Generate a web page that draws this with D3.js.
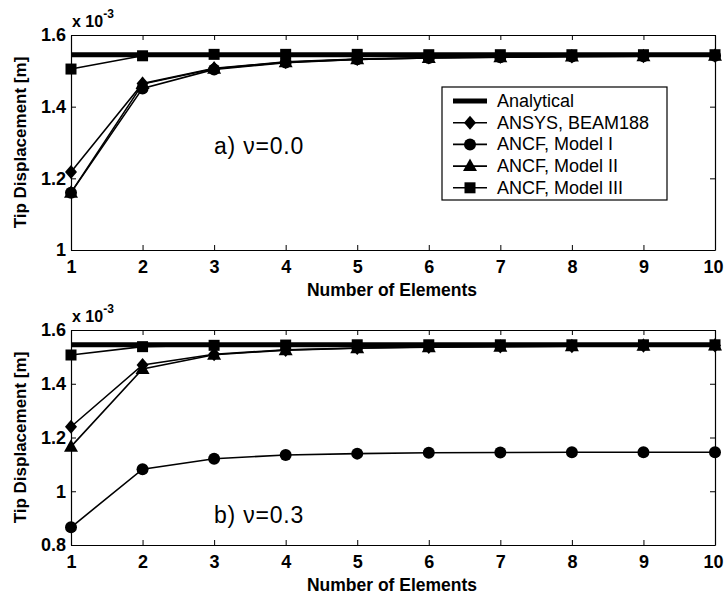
<!DOCTYPE html>
<html>
<head>
<meta charset="utf-8">
<script src="https://cdn.jsdelivr.net/npm/d3@7"></script>
<style>
  body { margin: 0; background: #fff; }
  svg { font-family: "Liberation Sans", Arial, Helvetica, sans-serif; }
</style>
</head>
<body>
<svg id="chart" width="724" height="599"></svg>
<script>
// number of elements on the x axis
const nElements = [1, 2, 3, 4, 5, 6, 7, 8, 9, 10];
const xTicks = [1, 2, 3, 4, 5, 6, 7, 8, 9, 10];

// analytical tip displacement (x 10^-3 m)
const analytical = 1.545;

// panel a) nu = 0.0
const ansysA  = [1.218, 1.465, 1.507, 1.525, 1.533, 1.537, 1.539, 1.540, 1.541, 1.542];
const model1A = [1.160, 1.451, 1.504, 1.523, 1.532, 1.536, 1.538, 1.540, 1.541, 1.542];
const model2A = [1.160, 1.463, 1.506, 1.524, 1.532, 1.536, 1.538, 1.540, 1.541, 1.542];
const model3A = [1.505, 1.542, 1.546, 1.546, 1.546, 1.545, 1.545, 1.545, 1.545, 1.545];

// panel b) nu = 0.3
const ansysB  = [1.240, 1.470, 1.510, 1.526, 1.533, 1.537, 1.539, 1.540, 1.541, 1.542];
const model1B = [0.866, 1.082, 1.121, 1.135, 1.140, 1.143, 1.144, 1.145, 1.145, 1.145];
const model2B = [1.166, 1.455, 1.508, 1.525, 1.532, 1.536, 1.538, 1.540, 1.541, 1.542];
const model3B = [1.507, 1.538, 1.543, 1.544, 1.545, 1.545, 1.545, 1.545, 1.545, 1.545];

const yTicksA = [1, 1.2, 1.4, 1.6];
const yTicksB = [0.8, 1, 1.2, 1.4, 1.6];

const legendNames = ["Analytical", "ANSYS, BEAM188", "ANCF, Model I", "ANCF, Model II", "ANCF, Model III"];
const markerTypes = [null, "diamond", "circle", "triangle", "square"];

const svg = d3.select("#chart");

//Draws one marker shape centred at 0,0
function drawMarker(g, type) {
    if (type == "circle") {
        g.append("circle").attr("r", 6).attr("fill", "#000");
    } else if (type == "diamond") {
        g.append("path").attr("d", "M0,-7L6,0L0,7L-6,0Z").attr("fill", "#000");
    } else if (type == "triangle") {
        g.append("path").attr("d", "M0,-7.5L7,5L-7,5Z").attr("fill", "#000");
    } else if (type == "square") {
        g.append("rect").attr("x", -5.5).attr("y", -5.5).attr("width", 11).attr("height", 11).attr("fill", "#000");
    }
}

function drawPanel(cfg) {
    const left = 71, right = 715;
    const x = d3.scaleLinear().domain([1, 10]).range([left, right]);
    const y = d3.scaleLinear().domain(cfg.yDomain).range([cfg.bottom, cfg.top]);
    const g = svg.append("g");

    //Analytical solution: thick horizontal line
    g.append("path")
        .datum(nElements)
        .attr("fill", "none")
        .attr("stroke", "#000")
        .attr("stroke-width", 5)
        .attr("d", d3.line().x(d => x(d)).y(() => y(analytical)));

    //Numerical series with markers
    cfg.series.forEach((vals, i) => {
        const pts = nElements.map((n, j) => ({n: n, v: vals[j]}));
        g.append("path")
            .datum(pts)
            .attr("fill", "none")
            .attr("stroke", "#000")
            .attr("stroke-width", 1.6)
            .attr("d", d3.line().x(d => x(d.n)).y(d => y(d.v)));
        pts.forEach(p => {
            const m = g.append("g").attr("transform", "translate(" + x(p.n) + "," + y(p.v) + ")");
            drawMarker(m, markerTypes[i + 1]);
        });
    });

    //Axes, ticks pointing inward like matlab
    const tickStyle = a => {
        a.select(".domain").attr("stroke-width", 1.2);
        a.selectAll(".tick line").attr("stroke-width", 1);
    };
    const xAxis = g.append("g")
        .attr("transform", "translate(0," + cfg.bottom + ")")
        .call(d3.axisBottom(x).tickValues(xTicks).tickSizeInner(-5).tickSizeOuter(0).tickPadding(10).tickFormat(d3.format("d")))
        .call(tickStyle);
    xAxis.selectAll("text").attr("font-size", 18).attr("font-weight", "bold").attr("fill", "#000");
    //last label sits on the page edge, keep it inside
    xAxis.selectAll(".tick text").filter(d => d == 10).attr("text-anchor", "end").attr("x", 8);
    g.append("g")
        .attr("transform", "translate(0," + cfg.top + ")")
        .call(d3.axisTop(x).tickValues(xTicks).tickSizeInner(-5).tickSizeOuter(0).tickFormat(""))
        .call(tickStyle);
    g.append("g")
        .attr("transform", "translate(" + left + ",0)")
        .call(d3.axisLeft(y).tickValues(cfg.yTicks).tickSizeInner(-5).tickSizeOuter(0).tickPadding(5).tickFormat(d3.format("~g")))
        .call(tickStyle)
        .selectAll("text").attr("font-size", 18).attr("font-weight", "bold").attr("fill", "#000");
    g.append("g")
        .attr("transform", "translate(" + right + ",0)")
        .call(d3.axisRight(y).tickValues(cfg.yTicks).tickSizeInner(-5).tickSizeOuter(0).tickFormat(""))
        .call(tickStyle);

    //Exponent label above the y axis
    const ex = g.append("text")
        .attr("x", 72)
        .attr("y", cfg.top - 8)
        .attr("font-size", 16)
        .attr("font-weight", "bold");
    ex.append("tspan").text("x 10");
    ex.append("tspan").attr("dy", -9).attr("font-size", 12).text("-3");

    //Axis titles
    g.append("text")
        .attr("x", 392)
        .attr("y", cfg.bottom + 46)
        .attr("text-anchor", "middle")
        .attr("font-size", 17.5)
        .attr("font-weight", "bold")
        .text("Number of Elements");
    g.append("text")
        .attr("transform", "translate(26," + (cfg.top + cfg.bottom) / 2 + ") rotate(-90)")
        .attr("text-anchor", "middle")
        .attr("font-size", 17)
        .attr("font-weight", "bold")
        .text("Tip Displacement [m]");

    //Panel annotation
    g.append("text")
        .attr("x", 214)
        .attr("y", cfg.labelY)
        .attr("font-size", 23)
        .attr("letter-spacing", 0.8)
        .text(cfg.label);

    return {x: x, y: y};
}

drawPanel({
    top: 35, bottom: 250, yDomain: [1, 1.6], yTicks: yTicksA,
    series: [ansysA, model1A, model2A, model3A],
    label: "a) \u03bd=0.0", labelY: 154
});
drawPanel({
    top: 330, bottom: 545, yDomain: [0.8, 1.6], yTicks: yTicksB,
    series: [ansysB, model1B, model2B, model3B],
    label: "b) \u03bd=0.3", labelY: 523
});

//Legend in panel a
const legend = svg.append("g");
legend.append("rect")
    .attr("x", 442).attr("y", 87)
    .attr("width", 225).attr("height", 113)
    .attr("fill", "#fff").attr("stroke", "#000").attr("stroke-width", 1.2);
legendNames.forEach((name, i) => {
    const ry = 101 + i * 21.7;
    legend.append("line")
        .attr("x1", 453).attr("x2", 487).attr("y1", ry).attr("y2", ry)
        .attr("stroke", "#000").attr("stroke-width", i == 0 ? 5 : 1.6);
    if (markerTypes[i]) {
        const m = legend.append("g").attr("transform", "translate(470," + ry + ")");
        drawMarker(m, markerTypes[i]);
    }
    legend.append("text")
        .attr("x", 497).attr("y", ry + 6)
        .attr("font-size", 18)
        .text(name);
});
</script>
</body>
</html>
